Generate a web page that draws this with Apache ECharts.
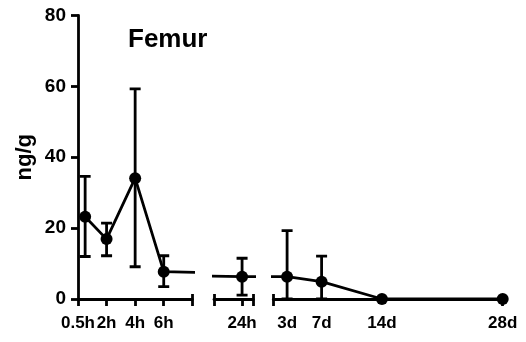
<!DOCTYPE html>
<html><head><meta charset="utf-8">
<script src="https://cdn.jsdelivr.net/npm/echarts@6/dist/echarts.min.js"></script>
<style>html,body{margin:0;padding:0;background:#fff}#c{width:526px;height:342px}</style>
</head><body><div id="c"></div>
<script>
// ---- data ----
const timeHours   = [0.5, 2, 4, 6, 24, 72, 168, 336, 672];
const timeLabels  = ['0.5h', '2h', '4h', '6h', '24h', '3d', '7d', '14d', '28d'];
const meanValues  = [23.2, 16.9, 34.1, 7.7, 6.3, 6.3, 4.9, 0, 0];
const upperValues = [34.6, 21.4, 59.3, 12.2, 11.5, 19.3, 12.1, null, null];
const lowerValues = [12.0, 12.2, 9.1, 3.5, 1.1, 0, 0, null, null];
const yTicks = [0, 20, 40, 60, 80];
const titleText = 'Femur';
const yName = 'ng/g';

// ---- layout of the broken x axis (three segments) ----
const FONT = '"Liberation Sans", Arial, sans-serif';
const TOP = 15.5, HEIGHT = 283.5;
const segments = [
  { left: 78,    width: 114.3, min: 0,   max: 8,    unitHours: 1,  down: [0, 2, 4, 6, 8], up: [8],
    labelPos: [0, 2, 4, 6], labelIdx: [0, 1, 2, 3] },
  { left: 214,   width: 39.3,  min: 22,  max: 24.8, unitHours: 1,  down: [22, 24, 24.8], up: [22, 24.8],
    labelPos: [24], labelIdx: [4] },
  { left: 273.3, width: 229.4, min: 1.4, max: 28,   unitHours: 24, down: [1.4, 28], up: [1.4],
    labelPos: [3, 7, 14, 28], labelIdx: [5, 6, 7, 8] }
];

const LW = 2.8;
const grids = [], xAxes = [], yAxes = [], series = [];

segments.forEach((s, i) => {
  grids.push({ left: s.left, top: TOP, width: s.width, height: HEIGHT });
  const labelMap = {};
  s.labelPos.forEach((p, k) => { labelMap[p] = timeLabels[s.labelIdx[k]]; });
  xAxes.push({
    type: 'value', gridIndex: i, min: s.min, max: s.max, position: 'bottom',
    axisLine: { show: true, onZero: false, lineStyle: { color: '#000', width: LW } },
    axisTick: { show: true, length: 7, customValues: s.down, lineStyle: { color: '#000', width: LW } },
    axisLabel: { show: true, customValues: s.labelPos, margin: 16,
      formatter: v => labelMap[v] !== undefined ? labelMap[v] : '',
      color: '#000', fontSize: 17, fontWeight: 'bold', fontFamily: FONT },
    splitLine: { show: false }
  });
  yAxes.push({
    type: 'value', gridIndex: i, min: 0, max: 80, interval: 20, show: i === 0,
    name: i === 0 ? yName : '', nameLocation: 'middle', nameGap: 42,
    nameTextStyle: { color: '#000', fontSize: 22, fontWeight: 'bold', fontFamily: FONT },
    axisLine: { show: true, lineStyle: { color: '#000', width: LW } },
    axisTick: { show: true, length: 7, lineStyle: { color: '#000', width: LW } },
    axisLabel: { show: true, margin: 12, color: '#000', fontSize: 19, fontWeight: 'bold', fontFamily: FONT,
      customValues: yTicks },
    splitLine: { show: false }
  });
});
// overlay axes drawing the upward half of the segment-end ticks
segments.forEach((s, i) => {
  xAxes.push({
    type: 'value', gridIndex: i, min: s.min, max: s.max, position: 'top', offset: -HEIGHT,
    axisLine: { show: false },
    axisTick: { show: true, length: 5, customValues: s.up, lineStyle: { color: '#000', width: LW } },
    axisLabel: { show: false },
    splitLine: { show: false }
  });
});

segments.forEach((s, i) => {
  const pts = timeHours.map((h, k) => [h / s.unitHours, meanValues[k]]);
  const bars = [];
  timeHours.forEach((h, k) => {
    const x = h / s.unitHours;
    if (upperValues[k] != null && x >= s.min && x <= s.max) bars.push([x, lowerValues[k], upperValues[k]]);
  });
  series.push({
    type: 'custom', xAxisIndex: i, yAxisIndex: i, data: bars, clip: true, z: 2,
    encode: { x: 0, y: [1, 2] },
    renderItem: (params, api) => {
      const x = api.value(0);
      const pLo = api.coord([x, api.value(1)]);
      const pHi = api.coord([x, api.value(2)]);
      const w = 5.5;
      const st = { stroke: '#000', lineWidth: LW };
      return { type: 'group', children: [
        { type: 'line', shape: { x1: pHi[0], y1: pHi[1], x2: pLo[0], y2: pLo[1] }, style: st },
        { type: 'line', shape: { x1: pHi[0] - w, y1: pHi[1], x2: pHi[0] + w, y2: pHi[1] }, style: st },
        { type: 'line', shape: { x1: pLo[0] - w, y1: pLo[1], x2: pLo[0] + w, y2: pLo[1] }, style: st }
      ]};
    }
  });
  series.push({
    type: 'line', xAxisIndex: i, yAxisIndex: i, data: pts, clip: true, z: 3,
    symbol: 'circle', symbolSize: 12, showSymbol: true,
    lineStyle: { color: '#000', width: LW }, itemStyle: { color: '#000' },
    emphasis: { disabled: true }, animation: false
  });
});

const chart = echarts.init(document.getElementById('c'), null, { renderer: 'canvas' });
chart.setOption({
  animation: false,
  backgroundColor: '#fff',
  title: { text: titleText, left: 123, top: 22,
    textStyle: { color: '#000', fontSize: 26, fontWeight: 'bold', fontFamily: FONT } },
  grid: grids, xAxis: xAxes, yAxis: yAxes, series: series
});
</script></body></html>
